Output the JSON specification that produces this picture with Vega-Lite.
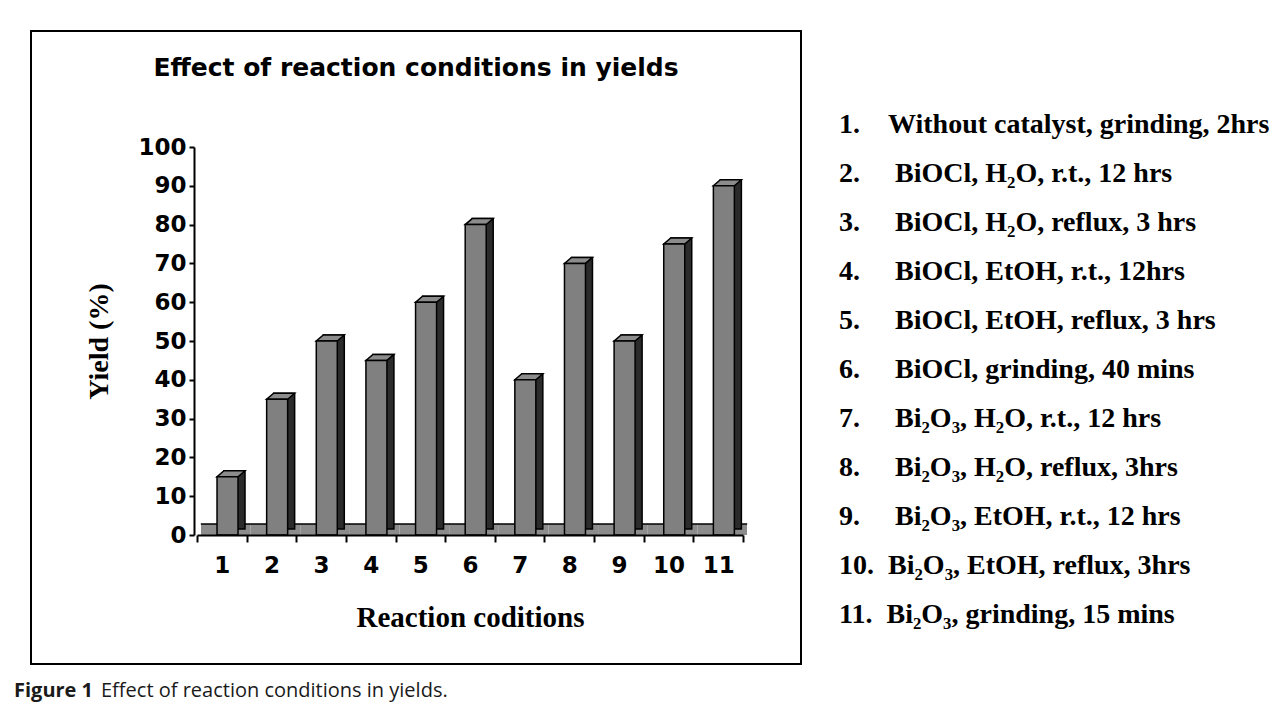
{
  "$schema": "https://vega.github.io/schema/vega-lite/v6.json",
  "padding": {"left": 14, "top": 30, "right": 0, "bottom": 10},
  "background": "white",
  "config": {"view": {"stroke": "black", "strokeWidth": 2}},
  "title": {"text": "Effect of reaction conditions in yields.", "orient": "bottom", "anchor": "start", "font": "Open Sans", "fontSize": 20, "fontWeight": "normal", "color": "#1a1a1a", "offset": -20, "dx": 87},
  "vconcat": [
    {
      "title": {"text": "Figure 1", "orient": "bottom", "anchor": "start", "font": "Open Sans", "fontSize": 20, "fontWeight": "bold", "color": "#1a1a1a", "offset": 16, "dx": -16},
      "vconcat": [
        {
          "width": 770,
          "height": 633,
          "title": {"text": "Effect of reaction conditions in yields", "font": "DejaVu Sans", "fontSize": 25, "fontWeight": "bold", "color": "black", "anchor": "middle", "frame": "group", "offset": -50},
          "data": {"values": [
            {"n": 1, "cond": "1.\u00a0\u00a0\u00a0\u00a0Without catalyst, grinding, 2hrs", "yield": 15},
            {"n": 2, "cond": "2.\u00a0\u00a0\u00a0\u00a0\u00a0BiOCl, H\u2082O, r.t., 12 hrs", "yield": 35},
            {"n": 3, "cond": "3.\u00a0\u00a0\u00a0\u00a0\u00a0BiOCl, H\u2082O, reflux, 3 hrs", "yield": 50},
            {"n": 4, "cond": "4.\u00a0\u00a0\u00a0\u00a0\u00a0BiOCl, EtOH, r.t., 12hrs", "yield": 45},
            {"n": 5, "cond": "5.\u00a0\u00a0\u00a0\u00a0\u00a0BiOCl, EtOH, reflux, 3 hrs", "yield": 60},
            {"n": 6, "cond": "6.\u00a0\u00a0\u00a0\u00a0\u00a0BiOCl, grinding, 40 mins", "yield": 80},
            {"n": 7, "cond": "7.\u00a0\u00a0\u00a0\u00a0\u00a0Bi\u2082O\u2083, H\u2082O, r.t., 12 hrs", "yield": 40},
            {"n": 8, "cond": "8.\u00a0\u00a0\u00a0\u00a0\u00a0Bi\u2082O\u2083, H\u2082O, reflux, 3hrs", "yield": 70},
            {"n": 9, "cond": "9.\u00a0\u00a0\u00a0\u00a0\u00a0Bi\u2082O\u2083, EtOH, r.t., 12 hrs", "yield": 50},
            {"n": 10, "cond": "10.\u00a0\u00a0Bi\u2082O\u2083, EtOH, reflux, 3hrs", "yield": 75},
            {"n": 11, "cond": "11.\u00a0\u00a0Bi\u2082O\u2083, grinding, 15 mins", "yield": 90}
          ]},
          "encoding": {
            "x": {
              "field": "n", "type": "ordinal",
              "scale": {"type": "band", "paddingInner": 0, "paddingOuter": 0, "range": [166, 712]},
              "axis": {
                "title": "Reaction coditions", "titleFont": "Liberation Serif", "titleFontSize": 29, "titleFontWeight": "bold", "titleColor": "black", "titlePadding": 26,
                "offset": -129, "labelAngle": 0, "labelFont": "DejaVu Sans", "labelFontSize": 23, "labelFontWeight": "bold", "labelColor": "black", "labelPadding": 12,
                "tickBand": "extent", "tickSize": 7, "tickWidth": 2, "tickColor": "black", "domainColor": "black", "domainWidth": 2, "grid": false, "zindex": 1
              }
            },
            "y": {
              "field": "yield", "type": "quantitative",
              "scale": {"domain": [0, 100], "range": [504, 116], "nice": false},
              "axis": {
                "title": "Yield (%)", "titleFont": "Liberation Serif", "titleFontSize": 28, "titleFontWeight": "bold", "titleColor": "black", "titlePadding": 24,
                "offset": -163, "tickCount": 10, "labelFont": "DejaVu Sans", "labelFontSize": 23, "labelFontWeight": "bold", "labelColor": "black", "labelPadding": 3,
                "tickSize": 5, "tickWidth": 2, "tickColor": "black", "domainColor": "black", "domainWidth": 2, "grid": false, "zindex": 1
              }
            }
          },
          "layer": [
            {
              "mark": {"type": "bar", "fill": "#8c8c8c", "strokeWidth": 0, "xOffset": 4, "y2Offset": -11},
              "encoding": {"y": {"datum": 0}, "y2": {"datum": 0}}
            },
            {
              "mark": {"type": "tick", "color": "black", "orient": "horizontal", "size": 50, "thickness": 1.5, "xOffset": 4, "yOffset": -11, "opacity": 1},
              "encoding": {"y": {"datum": 0}}
            },
            {
              "mark": {"type": "bar", "width": 21, "xOffset": 12.7, "yOffset": -6, "y2Offset": -6, "fill": "#2b2b2b", "stroke": "black", "strokeWidth": 1.5}
            },
            {
              "mark": {"type": "point", "shape": "M-1.05,0L1.05,0L1.75,-0.6L-0.35,-0.6Z", "size": 400, "filled": true, "fill": "#8c8c8c", "stroke": "black", "strokeWidth": 1.5, "opacity": 1, "fillOpacity": 1, "strokeOpacity": 1, "xOffset": 5.7}
            },
            {
              "mark": {"type": "bar", "width": 21, "xOffset": 5.7, "stroke": "black", "strokeWidth": 1.5, "fillOpacity": 1},
              "encoding": {
                "color": {
                  "field": "cond", "type": "nominal", "sort": {"field": "n", "op": "min"},
                  "scale": {"range": ["#808080"]},
                  "legend": {
                    "orient": "none", "legendX": 780, "legendY": 80, "title": null,
                    "labelFont": "Liberation Serif", "labelFontSize": 28, "labelFontWeight": "bold", "labelColor": "black", "labelLimit": 0,
                    "symbolSize": 0, "symbolStrokeWidth": 0, "symbolOpacity": 0, "labelOffset": 0, "rowPadding": 21, "padding": 0
                  }
                }
              }
            }
          ]
        }
      ]
    }
  ]
}
